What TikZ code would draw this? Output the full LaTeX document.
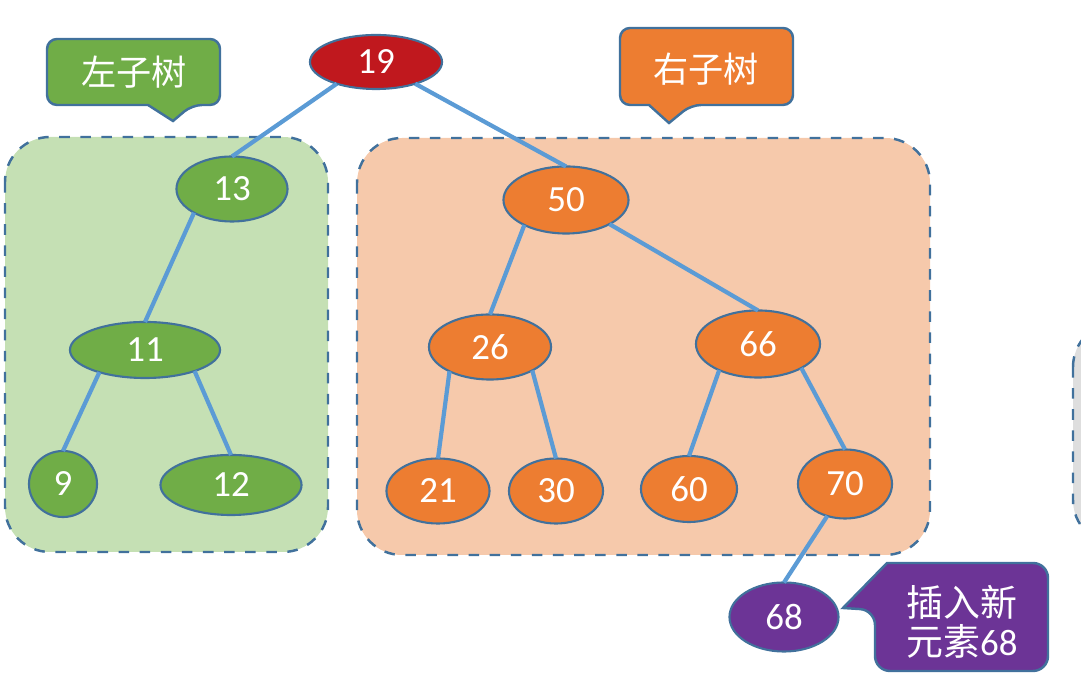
\documentclass[tikz,border=0pt]{standalone}
\usepackage{fontspec}
\setmainfont{Carlito}
\newfontfamily\cjk{Noto Sans CJK SC}
\usetikzlibrary{shapes.geometric}

\begin{document}
\begin{tikzpicture}[x=0.01cm, y=-0.01cm, every node/.style={inner sep=0,outer sep=0},
    treenode/.style={ellipse, draw=nodeborder, line width=0.6pt, text=white, font=\fontsize{10.5}{12}\selectfont},
    edge/.style={draw=edgeblue, line width=1.2pt},
    subtree/.style={draw=nodeborder, dashed, line width=0.7pt, rounded corners=0.45cm},
    tag/.style={draw=nodeborder, line width=0.7pt},
    tagtext/.style={text=white, font=\cjk\fontsize{10}{11}\selectfont, align=center}]
        % Colors
        \definecolor{nodeborder}{RGB}{65,113,156}
        \definecolor{edgeblue}{RGB}{91,155,213}
        \definecolor{myred}{RGB}{192,24,30}
        \definecolor{green}{RGB}{112,173,71}
        \definecolor{orange}{RGB}{237,125,49}
        \definecolor{purple}{RGB}{108,52,150}
        \definecolor{lightgreen}{RGB}{197,224,180}
        \definecolor{lightorange}{RGB}{246,201,171}
        \definecolor{lightgray}{RGB}{222,222,222}

        \clip (0,0) rectangle (1081,680);

        % Subtree boxes
        \draw[subtree, fill=lightgreen] (5,137) rectangle (328,552);
        \draw[subtree, fill=lightorange] (357,138) rectangle (930,555);
        \draw[subtree, fill=lightgray] (1073,322) rectangle (1200,545);

        % Tags
        \draw[tag, fill=green, rounded corners=0.1cm] (47,39) -- (220,39) -- (220,105) -- (192,105) [sharp corners] -- (173,121) -- (148,105) [rounded corners=0.1cm] -- (47,105) -- cycle;
        \node[tagtext] (left_tag) at (134,72) {左子树};

        \draw[tag, fill=orange, rounded corners=0.1cm] (620,28) -- (793,28) -- (793,105) -- (691,105) [sharp corners] -- (669,123) -- (649,105) [rounded corners=0.1cm] -- (620,105) -- cycle;
        \node[tagtext] (right_tag) at (706,69) {右子树};

        \draw[tag, fill=purple, rounded corners=0.15cm] (887,563) -- (1048,563) -- (1048,671) -- (875,671) -- (875,610) [sharp corners] -- (843,608) -- cycle;
        \node[tagtext, font=\fontsize{10.5}{11}\selectfont] (new_tag) at (962,622) {{\cjk 插入新}\\{\cjk 元素}68};

        % Tree nodes
        \node[treenode, fill=myred, minimum width=1.32cm, minimum height=0.54cm] (n19) at (376,62) {19};

        \node[treenode, fill=green, minimum width=1.11cm, minimum height=0.65cm] (n13) at (232,189) {13};
        \node[treenode, fill=green, minimum width=1.50cm, minimum height=0.56cm] (n11) at (145,350) {11};
        \node[treenode, fill=green, minimum width=0.68cm, minimum height=0.66cm] (n9) at (63,484) {9};
        \node[treenode, fill=green, minimum width=1.41cm, minimum height=0.60cm] (n12) at (231,485) {12};

        \node[treenode, fill=orange, minimum width=1.25cm, minimum height=0.67cm] (n50) at (566,200) {50};
        \node[treenode, fill=orange, minimum width=1.22cm, minimum height=0.65cm] (n26) at (490,347) {26};
        \node[treenode, fill=orange, minimum width=1.24cm, minimum height=0.67cm] (n66) at (758,344) {66};
        \node[treenode, fill=orange, minimum width=1.03cm, minimum height=0.65cm] (n21) at (438,491) {21};
        \node[treenode, fill=orange, minimum width=0.94cm, minimum height=0.65cm] (n30) at (556,491) {30};
        \node[treenode, fill=orange, minimum width=0.96cm, minimum height=0.66cm] (n60) at (689,489) {60};
        \node[treenode, fill=orange, minimum width=0.94cm, minimum height=0.69cm] (n70) at (845,484) {70};

        \node[treenode, fill=purple, minimum width=1.09cm, minimum height=0.69cm] (n68) at (784,617) {68};

        % Edges
        \draw[edge] (n19.209) -- (n13.north);
        \draw[edge] (n19.331) -- (n50.north);
        \draw[edge] (n13.212) -- (n11.north);
        \draw[edge] (n11.206) -- (n9.north);
        \draw[edge] (n11.337) -- (n12.north);
        \draw[edge] (n50.211) -- (n26.north);
        \draw[edge] (n50.331) -- (n66.north);
        \draw[edge] (n26.211) -- (n21.north);
        \draw[edge] (n26.331) -- (n30.north);
        \draw[edge] (n66.214) -- (n60.north);
        \draw[edge] (n66.331) -- (n70.north);
        \draw[edge] (n70.241) -- (n68.north);
      \end{tikzpicture}
\end{document}
